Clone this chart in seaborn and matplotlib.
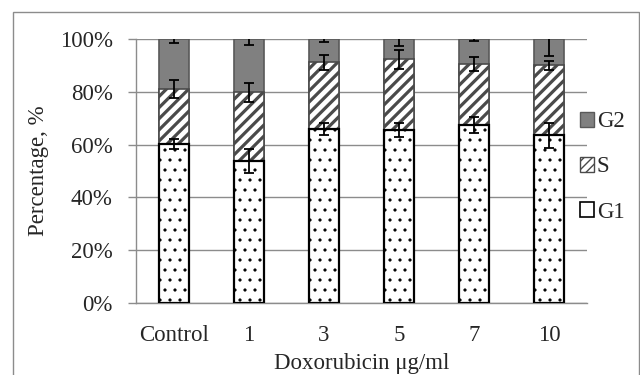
import matplotlib
matplotlib.use("Agg")
import matplotlib as mpl
import matplotlib.pyplot as plt
import matplotlib.patches as mpatches
import matplotlib.hatch as mhatch
import seaborn as sns
import pandas as pd
import numpy as np

categories = ["Control", "1", "3", "5", "7", "10"]
g1 = [60.2, 53.8, 66.0, 65.5, 67.4, 63.5]
s = [20.8, 26.0, 25.2, 26.8, 23.2, 26.5]
g2 = [19.0, 20.2, 8.8, 7.7, 9.4, 10.0]
g1_err = [1.9, 4.7, 2.3, 2.6, 2.9, 4.7]
s_err = [3.4, 3.5, 2.9, 3.7, 2.7, 1.8]
g2_err = [1.6, 2.3, 1.0, 2.5, 0.6, 6.4]
y_ticks = [0, 20, 40, 60, 80, 100]


# sparser dot texture (one '.' -> 10 rows per inch instead of 6)
class SparseDots(mhatch.SmallFilledCircles):
    size = 0.12

    def __init__(self, hatch, density):
        self.num_rows = hatch.count('.') * 10
        mhatch.Circles.__init__(self, hatch, density)


mhatch._hatch_types = [SparseDots if t is mhatch.SmallFilledCircles else t
                       for t in mhatch._hatch_types]


def with_hatch_lw(artist, lw):
    """Draw an artist with its own hatch line width."""
    if hasattr(artist, "set_hatch_linewidth"):
        artist.set_hatch_linewidth(lw)
    orig = artist.draw

    def draw(renderer, _orig=orig, _lw=lw):
        with mpl.rc_context({"hatch.linewidth": _lw}):
            return _orig(renderer)
    artist.draw = draw


sns.set_theme(style="white")
plt.rcParams['font.family'] = ['Liberation Serif', 'DejaVu Serif']

FS = 16.5

g1a = np.array(g1)
sa = np.array(s)
g2a = np.array(g2)
top_s = g1a + sa
top_g2 = top_s + g2a

df = pd.DataFrame({"cat": categories, "g1": g1a, "s": top_s, "g2": top_g2})

fig = plt.figure(figsize=(6.4, 3.75), dpi=100)
ax = fig.add_axes([136/640, 1-303/375, (587-136)/640, (303-39)/375])

sns.barplot(data=df, x="cat", y="g2", ax=ax, color="#808080", width=0.4,
            edgecolor="#595959", linewidth=1.2, saturation=1, zorder=3)
n0 = len(ax.patches)
sns.barplot(data=df, x="cat", y="s", ax=ax, color="white", width=0.4,
            edgecolor="#4a4a4a", linewidth=1.2, saturation=1, zorder=4)
s_patches = ax.patches[n0:]
for p in s_patches:
    p.set_hatch("///")
    with_hatch_lw(p, 2.3)
n1 = len(ax.patches)
sns.barplot(data=df, x="cat", y="g1", ax=ax, color="white", width=0.4,
            edgecolor="black", linewidth=1.6, saturation=1, zorder=5)
g1_patches = ax.patches[n1:]
for p in g1_patches:
    p.set_hatch(".")
    with_hatch_lw(p, 0.5)

# error bars
xs = np.arange(len(categories))
ekw = dict(fmt="none", ecolor="black", elinewidth=1.3, capsize=3.7, capthick=1.3, zorder=6)
ax.errorbar(xs, g1a, yerr=g1_err, **ekw)
ax.errorbar(xs, top_s, yerr=s_err, **ekw)
ax.errorbar(xs, top_g2, yerr=g2_err, **ekw)

ax.set_xlim(-0.5, len(categories) - 0.5)
ax.set_ylim(0, 100)
ax.set_yticks(y_ticks)
ax.set_yticklabels([f"{v}%" for v in y_ticks])
ax.yaxis.grid(True, color="#8c8c8c", linewidth=1.0, zorder=0)
ax.set_axisbelow(True)

for side in ["top", "right"]:
    ax.spines[side].set_visible(False)
for side in ["left", "bottom"]:
    ax.spines[side].set_color("#8c8c8c")
    ax.spines[side].set_linewidth(1.0)

ax.set_xticks(xs)
ax.set_xticklabels(categories)
ax.set_xticks(np.arange(-0.5, len(categories)), minor=True)
ax.tick_params(axis="x", which="major", length=0, pad=16, labelsize=FS)
ax.tick_params(axis="x", which="minor", length=5.8, width=1.0, color="#8c8c8c", direction="out")
ax.tick_params(axis="y", which="major", length=5.8, width=1.0, color="#8c8c8c",
               direction="out", labelsize=FS, left=True, pad=11)

ax.set_xlabel("Doxorubicin μg/ml", fontsize=FS, labelpad=5)
ax.set_ylabel("Percentage, %", fontsize=FS, labelpad=8)

handles = [
    mpatches.Patch(facecolor="#808080", edgecolor="#595959", label="G2"),
    mpatches.Patch(facecolor="white", edgecolor="#4a4a4a", hatch="////", label="S"),
    mpatches.Patch(facecolor="white", edgecolor="black", linewidth=1.2, label="G1"),
]
leg = fig.legend(handles=handles, loc="center left", bbox_to_anchor=(571/640, 1-167/375),
                 frameon=False, fontsize=FS, handlelength=0.6, handleheight=0.6,
                 handletextpad=0.12, labelspacing=1.05, borderaxespad=0)
with_hatch_lw(leg, 1.5)

# outer chart border
fig.add_artist(mpatches.Rectangle((13/640, -0.05), (639-13)/640, 1-12/375+0.05,
                                  transform=fig.transFigure, fill=False,
                                  edgecolor="#8c8c8c", linewidth=1.0))

fig.savefig("out.png", dpi=100)
